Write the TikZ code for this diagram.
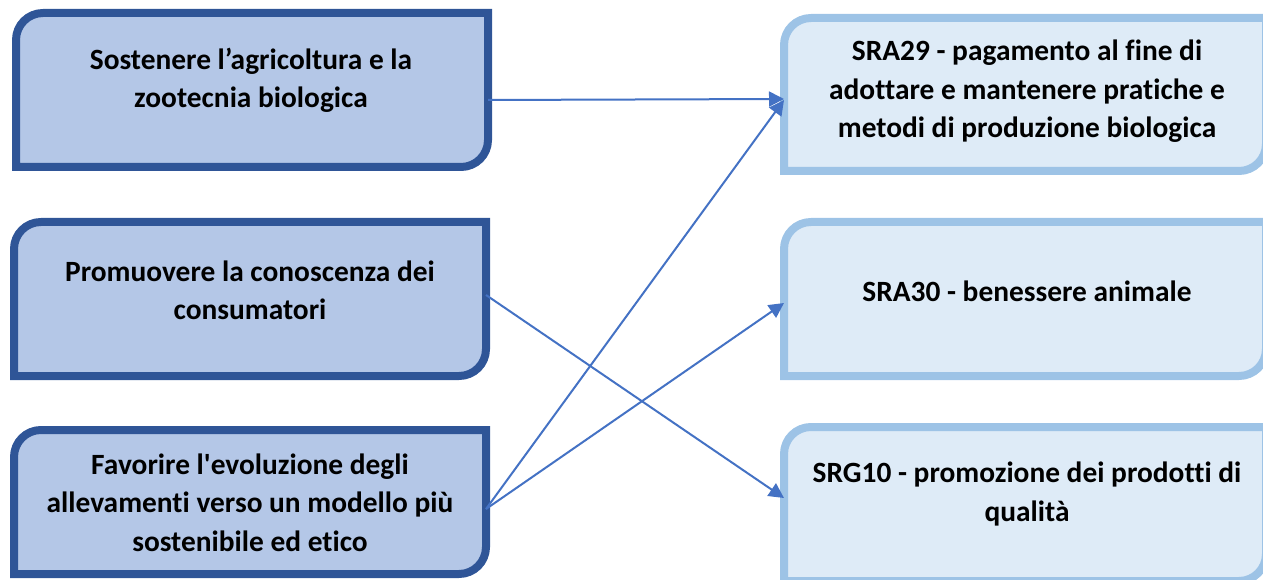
\documentclass[tikz,border=0pt]{standalone}
\usepackage{fontspec}
\setmainfont[Ligatures={NoCommon,TeXOff}]{Carlito}
\usetikzlibrary{arrows.meta,backgrounds}
\definecolor{lfill}{HTML}{B4C7E7}
\definecolor{ldraw}{HTML}{2F5597}
\definecolor{rfill}{HTML}{DEEBF7}
\definecolor{rdraw}{HTML}{9DC3E6}
\definecolor{arrc}{HTML}{4472C4}
\newcommand\diagshape[2]{%
  \draw[#2] (#1.south west) -- ([yshift=-27pt]#1.north west)
    arc[start angle=180,end angle=90,radius=27pt] -- (#1.north east)
    -- ([yshift=27pt]#1.south east)
    arc[start angle=0,end angle=-90,radius=27pt] -- cycle;}
\begin{document}
\begin{tikzpicture}[x=1pt,y=1pt,
  boxnode/.style={rectangle,inner sep=0pt,outer sep=0pt,minimum width=472pt},
  rboxnode/.style={rectangle,inner sep=0pt,outer sep=0pt,minimum width=482pt},
  lshape/.style={fill=lfill,draw=ldraw,line width=8pt},
  rshape/.style={fill=rfill,draw=rdraw,line width=8pt},
  txt/.style={font=\bfseries\fontsize{29.4}{38.5}\selectfont,align=center,inner sep=0pt},
  conn/.style={draw=arrc,line width=2pt,-{Triangle[length=15pt,width=15pt]}}]
\useasboundingbox (0,0) rectangle (1263,579);
% left boxes
\node[boxnode,minimum height=154pt] (L1) at (252,489) {};
\node[boxnode,minimum height=154pt] (L2) at (250,280) {};
\node[boxnode,minimum height=144pt] (L3) at (250,77) {};
% right boxes
\node[rboxnode,minimum height=153pt] (R1) at (1025,484.5) {};
\node[rboxnode,minimum height=154pt] (R2) at (1025,280) {};
\node[rboxnode,minimum height=154pt] (R3) at (1025,75) {};
\begin{pgfonlayer}{background}
  \diagshape{L1}{lshape}
  \diagshape{L2}{lshape}
  \diagshape{L3}{lshape}
  \diagshape{R1}{rshape}
  \diagshape{R2}{rshape}
  \diagshape{R3}{rshape}
\end{pgfonlayer}
% texts
\node[txt] (tL1) at (251,498.5) {Sostenere l’agricoltura e la\\zootecnia biologica};
\node[txt] (tL2) at (250,288.5) {Promuovere la conoscenza dei\\consumatori};
\node[txt] (tL3) at (250,76.3) {Favorire l'evoluzione degli\\allevamenti verso un modello più\\sostenibile ed etico};
\node[txt] (tR1) at (1027,487.7) {SRA29 - pagamento al fine di\\adottare e mantenere pratiche e\\metodi di produzione biologica};
\node[txt] (tR2) at (1027,288) {SRA30 - benessere animale};
\node[txt] (tR3) at (1027,85) {SRG10 - promozione dei prodotti di\\qualità};
% connectors
\draw[conn] ([yshift=-10pt]L1.east) -- ([yshift=-4.5pt]R1.west);
\draw[conn] ([yshift=4pt]L2.east) -- ([yshift=6pt]R3.west);
\draw[conn] ([yshift=-7pt]L3.east) -- ([yshift=-5.5pt]R1.west);
\draw[conn] ([yshift=-7pt]L3.east) -- ([yshift=-4pt]R2.west);
\end{tikzpicture}
\end{document}
